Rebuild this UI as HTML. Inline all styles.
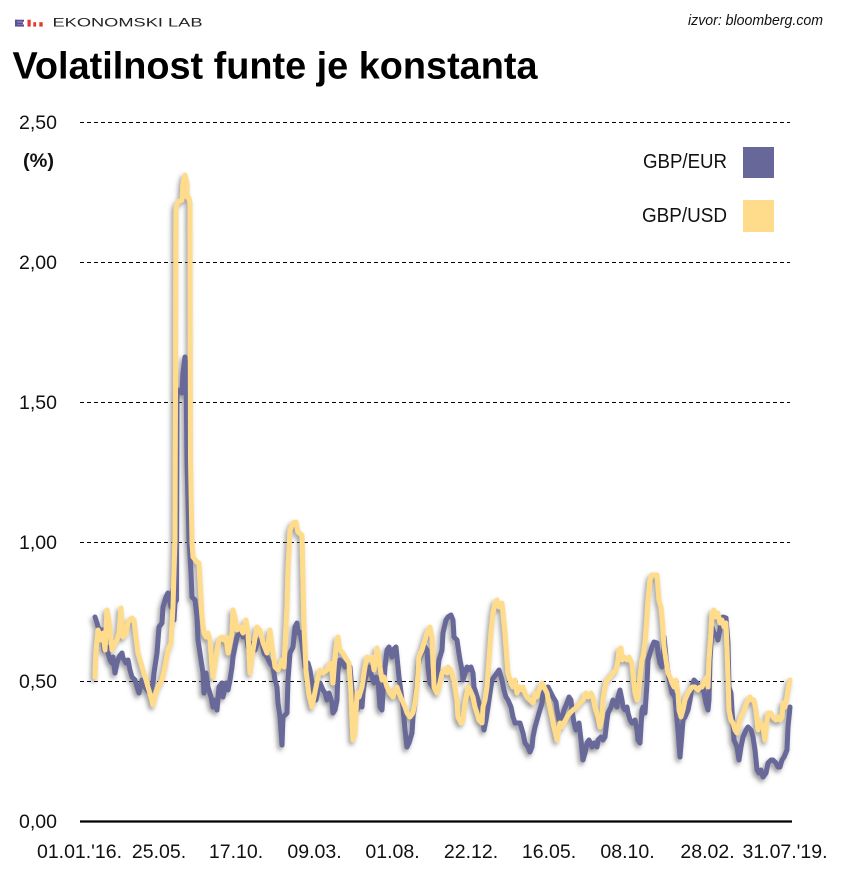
<!DOCTYPE html>
<html><head><meta charset="utf-8"><style>
html,body{margin:0;padding:0;background:#fff;}
svg{display:block;}
text{font-family:"Liberation Sans",Arial,sans-serif;}
</style></head><body>
<svg width="845" height="886" viewBox="0 0 845 886" xmlns="http://www.w3.org/2000/svg">
<defs>
<filter id="sh" x="-10%" y="-10%" width="120%" height="120%">
<feDropShadow dx="-2" dy="3" stdDeviation="2.3" flood-color="#555" flood-opacity="0.6"/>
</filter>
</defs>
<rect width="845" height="886" fill="#fff"/>
<!-- logo -->
<rect x="15" y="19.7" width="2.2" height="6.8" fill="#5b4f9b"/>
<rect x="15" y="19.7" width="9" height="2.1" fill="#5b4f9b"/>
<rect x="15" y="22.2" width="8" height="2.1" fill="#5b4f9b"/>
<rect x="15" y="24.5" width="9" height="2.1" fill="#5b4f9b"/>
<rect x="27.5" y="19.7" width="3.2" height="6.9" fill="#e53a2e"/>
<rect x="33.3" y="22.2" width="2.8" height="4.4" fill="#e53a2e"/>
<rect x="39.3" y="22.2" width="3.4" height="4.4" fill="#e53a2e"/>
<text x="52.5" y="26.5" font-size="11.5" textLength="150" lengthAdjust="spacingAndGlyphs" fill="#222">EKONOMSKI LAB</text>
<text x="688" y="25" font-size="14.5" font-style="italic" textLength="135" lengthAdjust="spacingAndGlyphs" fill="#111">izvor: bloomberg.com</text>
<text x="12.5" y="78.5" font-size="38" font-weight="bold" textLength="525" lengthAdjust="spacingAndGlyphs" fill="#000">Volatilnost funte je konstanta</text>

<!-- grid -->
<g stroke="#000" stroke-width="1" stroke-dasharray="4 3">
<line x1="80" y1="122.5" x2="790" y2="122.5"/>
<line x1="80" y1="262.5" x2="790" y2="262.5"/>
<line x1="80" y1="402.5" x2="790" y2="402.5"/>
<line x1="80" y1="542.5" x2="790" y2="542.5"/>
<line x1="80" y1="681.5" x2="790" y2="681.5"/>
</g>
<line x1="80" y1="821.5" x2="792" y2="821.5" stroke="#000" stroke-width="2.2"/>

<!-- y labels -->
<g font-size="19.5" fill="#111" text-anchor="end">
<text x="57" y="129">2,50</text>
<text x="57" y="269">2,00</text>
<text x="57" y="409">1,50</text>
<text x="57" y="549">1,00</text>
<text x="57" y="688">0,50</text>
<text x="57" y="828">0,00</text>
</g>
<text x="23" y="167" font-size="19" font-weight="bold" fill="#111" textLength="31" lengthAdjust="spacingAndGlyphs">(%)</text>

<!-- x labels -->
<g font-size="19.5" fill="#111" text-anchor="middle">
<text x="79.5" y="858">01.01.'16.</text>
<text x="159" y="858">25.05.</text>
<text x="236" y="858">17.10.</text>
<text x="314.5" y="858">09.03.</text>
<text x="392.5" y="858">01.08.</text>
<text x="471" y="858">22.12.</text>
<text x="549" y="858">16.05.</text>
<text x="627.5" y="858">08.10.</text>
<text x="707.5" y="858">28.02.</text>
<text x="785" y="858">31.07.'19.</text>
</g>

<!-- legend -->
<text x="643" y="168" font-size="20" fill="#111" textLength="84" lengthAdjust="spacingAndGlyphs">GBP/EUR</text>
<rect x="743" y="147" width="31" height="31" fill="#676799"/>
<text x="642" y="222" font-size="20" fill="#111" textLength="85" lengthAdjust="spacingAndGlyphs">GBP/USD</text>
<rect x="743" y="200" width="31" height="32" fill="#fedc8b"/>

<!-- series -->
<g fill="none" stroke-width="5" stroke-linejoin="round" stroke-linecap="round" filter="url(#sh)">
<polyline stroke="#676799" points="95,617 97,623 98,627 100,630 103,630 104,650 107,647 108,653 110,660 112,663 113,657 115,673 117,663 119,657 122,653 123,658 126,663 128,660 130,670 132,677 135,680 137,687 139,693 142,680 145,687 147,690 150,693 153,683 154,673 157,653 159,627 162,623 163,607 166,597 168,593 171,607 173,590 174,620 175,603 176.5,600 177,390 178,390 182,393 183,373 185,357 186,367 187,460 189,540 190,555 191,573 192,597 195,600 197,617 198,640 201,660 203,673 204,693 206,673 208,687 211,697 213,707 215,700 217,710 219,687 222,683 223,697 226,683 228,690 230,680 232,667 233,657 235,647 237,637 239,633 242,630 243,637 246,633 248,647 250,653 253,643 255,650 258,640 262,643 264,653 267,657 270,663 273,667 275,680 277,687 278,703 280,717 282,745 283,717 287,713 288,680 290,653 293,647 295,627 297,623 298,633 300,632 302,643 305,667 308,663 310,670 313,690 316,700 318,690 320,683 323,690 325,693 327,700 329,693 332,703 333,713 335,710 337,700 338,670 340,660 343,663 345,667 348,663 350,667 352,690 353,700 356,700 357,710 359,700 362,707 363,693 365,680 367,673 369,667 372,677 374,683 376,677 378,680 380,707 382,710 383,693 385,667 387,650 389,647 392,657 393,650 396,647 397,657 399,677 402,700 403,707 405,730 407,747 409,743 412,733 413,717 415,703 417,683 418,667 420,657 423,650 425,647 427,650 428,667 430,683 433,687 437,677 439,660 442,650 443,633 446,620 448,617 451,615 453,620 454,637 457,640 458,647 460,660 462,670 463,680 465,673 467,667 468,670 471,667 473,673 474,687 476,693 478,700 480,707 483,720 484,730 486,720 488,707 490,693 492,680 494,677 497,673 499,670 502,680 504,690 506,697 508,700 511,707 513,717 515,723 520,723 523,733 525,743 528,747 530,752 532,747 533,737 535,727 537,720 539,713 542,703 543,693 546,690 548,687 551,693 553,697 556,702 557,710 559,720 562,717 564,710 567,703 569,697 571,700 572,710 574,723 576,730 578,727 579,723 581,740 583,760 585,753 587,743 589,740 592,747 594,743 597,747 598,740 601,737 603,740 605,737 607,720 608,713 611,707 613,700 615,703 617,707 618,697 620,690 622,700 623,707 625,710 627,707 628,713 630,720 632,723 635,720 637,730 638,740 640,743 642,710 643,707 645,713 647,683 648,660 650,653 652,647 654,642 657,643 658,653 660,663 662,667 663,660 664,637 666,657 668,673 670,683 672,693 675,697 677,720 678,730 680,757 682,733 683,720 685,717 688,710 690,700 692,687 694,680 697,683 699,687 702,690 703,687 706,703 708,710 709,700 710,660 712,627 714,633 717,637 718,640 721,623 723,617 726,618 728,643 729,687 731,693 732,710 734,740 737,747 739,760 741,747 743,737 746,730 748,727 751,730 753,737 755,750 757,770 759,773 761,770 763,777 766,773 768,763 771,760 773,760 776,763 778,767 780,767 782,760 784,757 787,750 788,727 790,707"/>
<polyline stroke="#fedc8b" points="95,677 96,650 98,630 101,640 103,633 105,650 107,610 109,620 112,650 113,647 117,640 119,633 121,608 122,623 123,637 126,633 128,622 130,620 132,618 134,620 136,637 138,653 141,663 143,670 146,680 148,687 151,697 153,705 156,693 158,687 162,680 165,667 168,650 171,643 173,607 174,573 175,540 175.5,400 176,207 178,202 182,200 183,183 185,175 187,183 187,197 189,198 190,203 190.5,460 192,543 193,557 197,562 199,563 200,580 202,617 204,633 206,637 208,633 210,640 212,667 213,677 215,663 217,650 219,640 222,637 224,640 226,637 228,653 230,643 232,633 233,610 235,617 237,630 240,627 243,633 246,620 248,633 250,673 253,650 257,627 260,630 263,643 267,653 270,630 273,653 275,667 278,670 282,660 284,667 287,607 288,570 290,530 293,523 296,522 298,532 302,535 303,580 304,627 306,670 309,695 312,707 314,697 316,687 318,677 320,670 323,673 327,670 330,663 332,670 333,683 335,657 337,640 338,637 340,650 343,653 347,660 349,663 351,693 352,720 353,740 355,733 357,693 359,697 362,687 365,667 367,657 370,660 372,657 374,670 376,657 377,648 379,660 382,680 384,677 387,687 390,693 393,697 395,690 397,687 399,693 402,700 405,707 407,713 410,717 413,713 415,703 417,687 419,657 422,650 424,643 427,633 430,627 432,637 433,657 434,687 437,693 439,687 442,673 444,670 447,673 448,667 451,670 453,677 455,687 457,700 458,717 461,723 463,720 465,703 467,693 468,687 470,690 473,697 475,707 477,713 479,720 482,723 483,707 485,700 487,687 489,660 491,633 493,613 495,603 497,600 499,607 502,603 503,613 505,633 507,660 508,673 511,683 513,687 515,680 517,693 519,687 522,690 523,687 525,693 527,697 530,700 533,703 535,693 537,697 539,690 542,683 544,687 547,693 549,703 552,717 554,727 557,740 558,733 560,723 562,727 564,723 567,717 570,713 573,710 577,707 580,703 583,700 586,693 588,697 591,693 593,697 595,707 598,717 600,727 602,717 603,700 605,687 607,680 610,677 613,673 616,670 618,660 619,650 621,648 622,660 624,657 627,660 629,657 632,663 633,673 635,693 637,700 638,697 640,677 642,660 643,657 645,643 647,617 648,600 650,580 652,575 657,575 658,587 659,600 661,607 662,617 663,630 664,647 666,660 668,673 670,677 672,683 674,687 676,680 678,693 679,710 681,717 683,710 685,700 688,693 690,690 692,687 695,687 698,690 700,687 702,687 705,680 707,677 708,687 709,660 711,633 712,613 714,610 716,617 718,613 720,623 722,620 724,627 726,623 727,647 728,677 729,710 731,720 733,723 735,730 737,733 738,727 741,717 743,713 745,707 748,700 750,697 752,700 754,700 756,710 758,730 759,720 761,723 763,727 765,740 767,720 768,713 771,713 773,717 776,720 778,717 780,720 782,717 783,703 785,707 787,697 788,690 790,680"/>
</g>
</svg>
</body></html>
